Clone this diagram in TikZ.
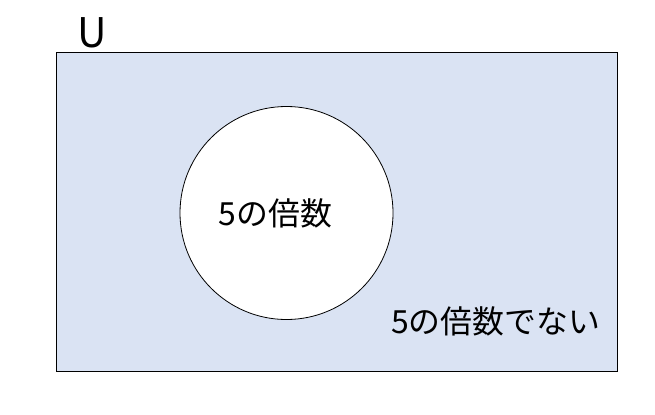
\documentclass[tikz,border=0pt]{standalone}
\usepackage{fontspec}
\newfontfamily\jpfont{Noto Sans CJK JP}
\usetikzlibrary{positioning}
\definecolor{setblue}{HTML}{DAE3F3}

\begin{document}
\begin{tikzpicture}[
  x=1bp, y=1bp,
  universe/.style={draw, fill=setblue, line width=0.8bp, minimum width=561bp, minimum height=319bp, inner sep=0pt},
  setcircle/.style={circle, draw, fill=white, line width=0.8bp, minimum size=213bp, inner sep=0pt},
  jptext/.style={font=\jpfont\fontsize{32}{36}\selectfont, inner sep=0pt}
]
  \useasboundingbox (0,0) rectangle (655,414);

  \node[universe] (univ) at (336.5,202.5) {};
  \node[anchor=base, font=\jpfont\fontsize{41}{46}\selectfont, inner sep=0pt] (ulabel) at (92,367) {U};

  \node[setcircle] (five) at (286.5,201) {};
  \node[jptext] (fivetext) at (275.5,201) {5の倍数};

  \node[jptext] (notfive) at (495.5,93) {5の倍数でない};
\end{tikzpicture}
\end{document}
